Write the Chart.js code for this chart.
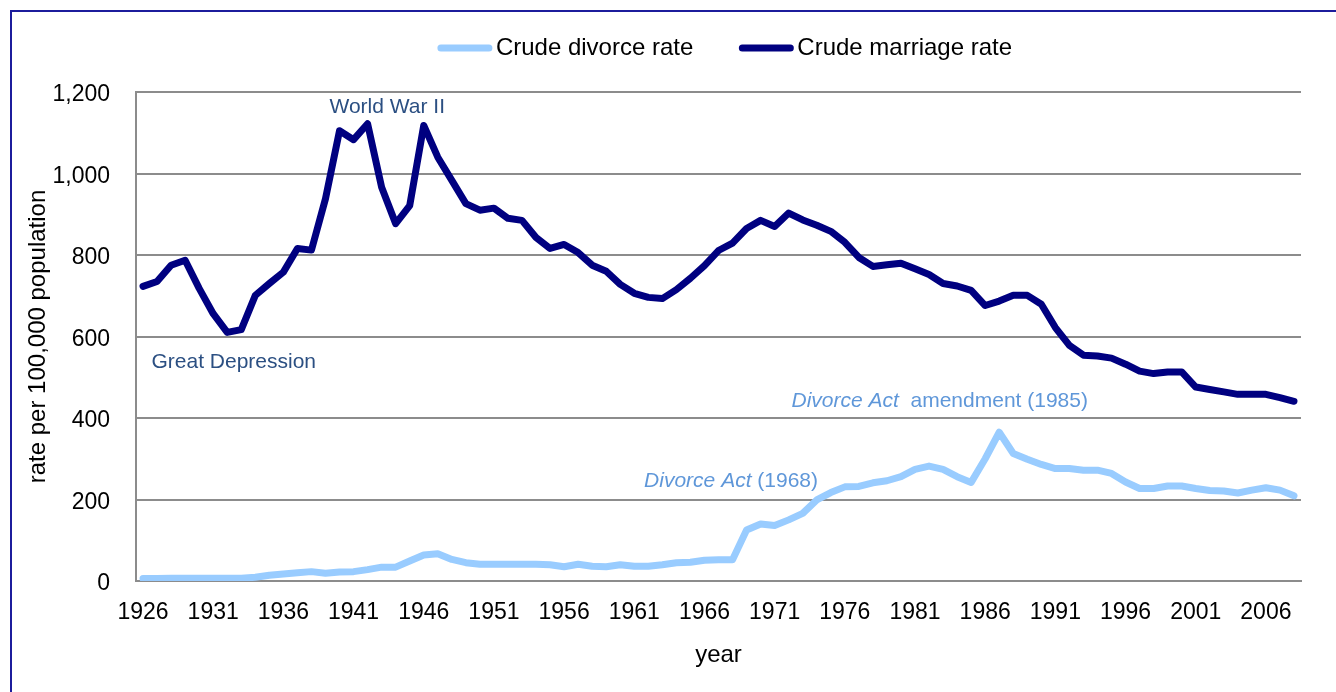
<!DOCTYPE html>
<html>
<head>
<meta charset="utf-8">
<script src="https://cdn.jsdelivr.net/npm/chart.js@4"></script>
<style>
  html, body { margin: 0; padding: 0; background: #fff; overflow: hidden; }
  #wrap { position: relative; width: 1336px; height: 692px; }
</style>
</head>
<body>
<div id="wrap"><canvas id="chart" width="1336" height="692"></canvas></div>
<script>
const years = [
  1926, 1927, 1928, 1929, 1930, 1931, 1932, 1933, 1934, 1935,
  1936, 1937, 1938, 1939, 1940, 1941, 1942, 1943, 1944, 1945,
  1946, 1947, 1948, 1949, 1950, 1951, 1952, 1953, 1954, 1955,
  1956, 1957, 1958, 1959, 1960, 1961, 1962, 1963, 1964, 1965,
  1966, 1967, 1968, 1969, 1970, 1971, 1972, 1973, 1974, 1975,
  1976, 1977, 1978, 1979, 1980, 1981, 1982, 1983, 1984, 1985,
  1986, 1987, 1988, 1989, 1990, 1991, 1992, 1993, 1994, 1995,
  1996, 1997, 1998, 1999, 2000, 2001, 2002, 2003, 2004, 2005,
  2006, 2007, 2008
];

// crude divorce rate, per 100,000 population
const divorceRate = [
  6, 6, 7, 7, 7, 7, 7, 7, 9, 14,
  17, 20, 23, 19, 22, 23, 28, 34, 34, 49,
  64, 67, 53, 45, 41, 41, 41, 41, 41, 40,
  35, 41, 36, 35, 40, 36, 36, 40, 45, 46,
  51, 52, 52, 125, 140, 136, 150, 166, 199, 217,
  231, 232, 241, 246, 256, 274, 282, 274, 256, 242,
  300, 365, 313, 299, 286, 276, 276, 272, 272, 264,
  243, 227, 227, 233, 233, 227, 222, 221, 216, 223,
  229, 223, 209
];

// crude marriage rate, per 100,000 population
const marriageRate = [
  723, 735, 775, 787, 718, 656, 610, 617, 701, 730,
  758, 816, 812, 938, 1105, 1083, 1122, 966, 877, 921,
  1118, 1040, 983, 926, 910, 915, 890, 885, 843, 816,
  826, 806, 775, 760, 728, 706, 696, 693, 715, 743,
  774, 811, 829, 865, 885, 870, 903, 886, 873, 858,
  831, 794, 772, 776, 780, 766, 752, 730, 724, 713,
  676, 687, 701, 701, 679, 622, 578, 554, 552, 547,
  532, 515, 509, 513, 513, 476, 470, 464, 458, 458,
  458, 450, 441
];

const seriesNames = ['Crude divorce rate', 'Crude marriage rate'];
const yTicks = [0, 200, 400, 600, 800, 1000, 1200];

// text notes: anchor year / value, parts [text, italic]
const notes = [
  { year: 1943.4, value: 1162, align: 'center', color: '#2b4f82', parts: [['World War II', false]] },
  { year: 1926.6, value: 537, align: 'left', color: '#2b4f82', parts: [['Great Depression', false]] },
  { year: 1961.7, value: 246, align: 'left', color: '#5f97d9', parts: [['Divorce Act', true], [' (1968)', false]] },
  { year: 1972.2, value: 442, align: 'left', color: '#5f97d9', parts: [['Divorce Act', true], ['  amendment (1985)', false]] }
];

const FONT = "'Liberation Sans', Arial, sans-serif";
const GRID = '#8c8c8c';

const frame = {
  id: 'frame',
  beforeDraw(chart) {
    const ctx = chart.ctx;
    ctx.save();
    ctx.strokeStyle = '#1c1c9c';
    ctx.lineWidth = 2;
    ctx.strokeRect(11, 11, 2000, 2000);
    ctx.restore();
  }
};

const lineLegend = {
  id: 'lineLegend',
  afterDraw(chart) {
    const ctx = chart.ctx;
    const sets = chart.data.datasets;
    ctx.save();
    ctx.font = '24px ' + FONT;
    ctx.textBaseline = 'middle';
    const lineLen = 54, gap = 4, itemGap = 46, y = 48;
    const widths = sets.map(d => lineLen + gap + ctx.measureText(d.label).width);
    const total = widths.reduce((a, b) => a + b, 0) + itemGap * (sets.length - 1);
    let x = 725 - total / 2;
    sets.forEach((d, i) => {
      ctx.strokeStyle = d.borderColor;
      ctx.lineWidth = 7;
      ctx.lineCap = 'round';
      ctx.beginPath();
      ctx.moveTo(x + 3, y);
      ctx.lineTo(x + lineLen - 3, y);
      ctx.stroke();
      ctx.fillStyle = '#000';
      ctx.fillText(d.label, x + lineLen + gap, y);
      x += widths[i] + itemGap;
    });
    ctx.restore();
  }
};

const noteText = {
  id: 'noteText',
  afterDatasetsDraw(chart) {
    const ctx = chart.ctx;
    const xs = chart.scales.x, ys = chart.scales.y;
    ctx.save();
    ctx.textBaseline = 'middle';
    ctx.textAlign = 'left';
    notes.forEach(n => {
      const fontOf = it => (it ? 'italic ' : '') + '21px ' + FONT;
      let w = 0;
      n.parts.forEach(p => { ctx.font = fontOf(p[1]); w += ctx.measureText(p[0]).width; });
      let x = xs.getPixelForValue(n.year - years[0]);
      if (n.align === 'center') x -= w / 2;
      const y = ys.getPixelForValue(n.value);
      ctx.fillStyle = n.color;
      n.parts.forEach(p => {
        ctx.font = fontOf(p[1]);
        ctx.fillText(p[0], x, y);
        x += ctx.measureText(p[0]).width;
      });
    });
    ctx.restore();
  }
};

new Chart(document.getElementById('chart'), {
  type: 'line',
  data: {
    labels: years,
    datasets: [
      {
        label: seriesNames[0],
        data: divorceRate,
        borderColor: '#99ccff',
        backgroundColor: '#99ccff',
        borderWidth: 7,
        pointRadius: 0,
        tension: 0,
        borderJoinStyle: 'round',
        borderCapStyle: 'round',
        order: 2
      },
      {
        label: seriesNames[1],
        data: marriageRate,
        borderColor: '#000080',
        backgroundColor: '#000080',
        borderWidth: 7,
        pointRadius: 0,
        tension: 0,
        borderJoinStyle: 'round',
        borderCapStyle: 'round',
        order: 1
      }
    ]
  },
  options: {
    responsive: false,
    animation: false,
    devicePixelRatio: 1,
    layout: { padding: { top: 92, right: 35, bottom: 0, left: 0 } },
    plugins: {
      legend: { display: false },
      tooltip: { enabled: false }
    },
    scales: {
      x: {
        offset: true,
        grid: { display: false, drawTicks: false },
        border: { display: true, color: GRID, width: 2 },
        ticks: {
          autoSkip: false,
          maxRotation: 0,
          padding: 18,
          color: '#000',
          font: { family: FONT, size: 23 },
          callback: (v, i) => (i % 5 === 0 ? String(years[i]) : '')
        },
        title: {
          display: true,
          text: 'year',
          color: '#000',
          font: { family: FONT, size: 24 },
          padding: { top: 0, bottom: 22 }
        },
        afterFit: s => { s.height = 111; }
      },
      y: {
        min: yTicks[0],
        max: yTicks[yTicks.length - 1],
        afterBuildTicks: s => { s.ticks = yTicks.map(v => ({ value: v })); },
        grid: { color: GRID, lineWidth: 2, drawTicks: false },
        border: { display: true, color: GRID, width: 2 },
        ticks: {
          padding: 26,
          labelOffset: 3,
          color: '#000',
          font: { family: FONT, size: 23 },
          callback: v => v.toLocaleString('en-US')
        },
        title: {
          display: true,
          text: 'rate per 100,000 population',
          color: '#000',
          font: { family: FONT, size: 24 },
          padding: { top: 24, bottom: 0 }
        },
        afterFit: s => { s.width = 136; }
      }
    }
  },
  plugins: [frame, lineLegend, noteText]
});
</script>
</body>
</html>
